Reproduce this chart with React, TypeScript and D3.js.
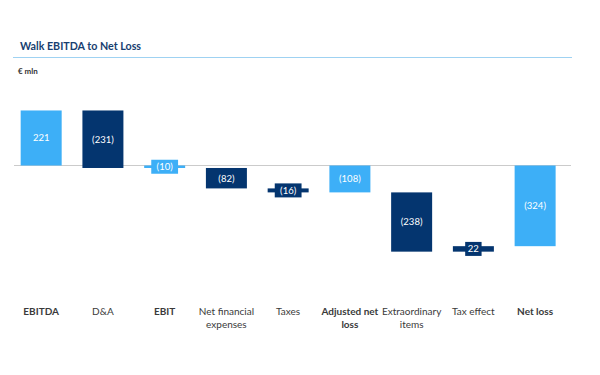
import React from "react";
import * as d3 from "d3";

const categories = [
  "EBITDA",
  "D&A",
  "EBIT",
  "Net financial expenses",
  "Taxes",
  "Adjusted net loss",
  "Extraordinary items",
  "Tax effect",
  "Net loss",
];
const labelLines = [
  ["EBITDA"],
  ["D&A"],
  ["EBIT"],
  ["Net financial", "expenses"],
  ["Taxes"],
  ["Adjusted net", "loss"],
  ["Extraordinary", "items"],
  ["Tax effect"],
  ["Net loss"],
];
const values = [221, -231, -10, -82, -16, -108, -238, 22, -324];
const isTotal = [true, false, true, false, false, true, false, false, true];

const TITLE = "Walk EBITDA to Net Loss";
const UNIT = "€ mln";

const LIGHT = "#3DAFF7";
const NAVY = "#04356F";
const FONT = "Lato, 'Open Sans', sans-serif";

export default function App() {
  const W = 600;
  const H = 375;

  const x = d3
    .scaleBand<string>()
    .domain(categories)
    .range([10.3, 566])
    .paddingInner(0.336)
    .paddingOuter(0.168);

  const y = d3.scaleLinear().domain([-400, 250]).range([265.1, 103.25]);

  let running = 0;
  const bars = categories.map((c, i) => {
    const v = values[i];
    let start: number, end: number;
    if (isTotal[i]) {
      start = 0;
      end = v;
      running = v;
    } else {
      start = running;
      end = running + v;
      running = end;
    }
    return { c, i, v, start, end, total: isTotal[i] };
  });

  const fmt = (v: number) => (v < 0 ? `(${Math.abs(v)})` : `${v}`);

  return (
    <svg
      width={W}
      height={H}
      style={{ position: "absolute", left: 0, top: 0, background: "#fff" }}
      fontFamily={FONT}
    >
      <text x={20} y={50} fontSize={10.7} fontWeight={700} fill="#173E70">
        {TITLE}
      </text>
      <line x1={13} x2={572} y1={57.5} y2={57.5} stroke="#9FD2F2" strokeWidth={1} />
      <text x={18} y={74} fontSize={8} fontWeight={700} fill="#333">
        {UNIT}
      </text>

      <line x1={14} x2={571} y1={y(0)} y2={y(0)} stroke="#CBCBCB" strokeWidth={1} />

      {bars.map((b) => {
        const x0 = x(b.c)!;
        const bw = x.bandwidth();
        const top = y(Math.max(b.start, b.end));
        const bot = y(Math.min(b.start, b.end));
        const h = Math.max(bot - top, 1);
        const color = b.total ? LIGHT : NAVY;
        const cx = x0 + bw / 2;
        const cy = (top + bot) / 2;
        const label = fmt(b.v);
        const small = h < 12;
        const tw = label.length * 5.2;
        return (
          <g key={b.c}>
            <rect x={x0} y={top} width={bw} height={h} fill={color} />
            {small && (
              <rect x={cx - tw / 2 - 3} y={cy - 7} width={tw + 6} height={14} fill={color} />
            )}
            <text
              x={cx}
              y={cy}
              dy="0.35em"
              textAnchor="middle"
              fontSize={9.5}
              fill="#fff"
            >
              {label}
            </text>
          </g>
        );
      })}

      {labelLines.map((lines, i) => {
        const cx = x(categories[i])! + x.bandwidth() / 2;
        return (
          <text
            key={i}
            x={cx}
            y={315}
            textAnchor="middle"
            fontSize={10}
            fontWeight={isTotal[i] ? 700 : 400}
            fill="#3A3A3A"
          >
            {lines.map((l, j) => (
              <tspan key={j} x={cx} dy={j === 0 ? 0 : 12.5}>
                {l}
              </tspan>
            ))}
          </text>
        );
      })}
    </svg>
  );
}
